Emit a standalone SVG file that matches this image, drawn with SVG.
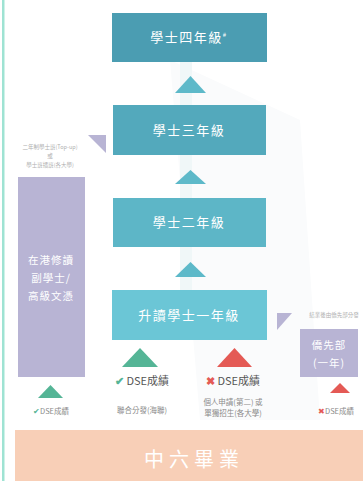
<svg xmlns="http://www.w3.org/2000/svg" width="363" height="481" viewBox="0 0 363 481">
<style>
text{font-family:"Noto Sans CJK TC","Noto Sans",sans-serif;}
.lbl{fill:#ffffff;font-size:13px;text-anchor:middle;letter-spacing:1.5px;}
.plbl{fill:#ffffff;font-size:10.5px;text-anchor:middle;letter-spacing:1px;}
.dse{fill:#555555;font-size:11px;text-anchor:middle;}
.sm{fill:#8a8a8a;font-size:7.5px;text-anchor:middle;}
.tiny{fill:#b0b0b0;font-size:5.5px;text-anchor:middle;}
.ok{fill:#55b596;}
.no{fill:#e45a55;}
.up{fill:#5db9c9;}
.pur{fill:#b8b4d4;}
</style>
<rect width="363" height="481" fill="#ffffff"/>
<polygon points="170,60 300,120 320,420 200,420" fill="#fafbfc"/>
<rect x="180" y="60" width="12" height="232" fill="#f0f7f8"/>
<rect x="2" y="0" width="2.5" height="481" fill="#9fe3d3"/>
<g id="year4"><rect x="112" y="13" width="155" height="49" fill="#4b9db2"/><text class="lbl" x="189" y="42">學士四年級<tspan font-size="6" dy="-5">#</tspan></text></g>
<g id="year3"><rect x="113" y="105" width="153" height="50" fill="#53a9bc"/><text class="lbl" x="189" y="135">學士三年級</text></g>
<g id="year2"><rect x="113" y="198" width="153" height="49" fill="#5db6c7"/><text class="lbl" x="189" y="227">學士二年級</text></g>
<g id="year1"><rect x="112" y="290" width="155" height="50" fill="#6bc6d6"/><text class="lbl" x="189" y="320">升讀學士一年級</text></g>
<g id="subdegree"><rect x="18" y="177" width="67" height="200" fill="#b8b4d4"/><text class="plbl" x="51" y="264">在港修讀</text><text class="plbl" x="51" y="282">副學士/</text><text class="plbl" x="51" y="300">高級文憑</text></g>
<g id="prep"><rect x="300" y="329" width="58" height="48" fill="#b8b4d4"/><text class="plbl" x="329" y="349">僑先部</text><text class="plbl" x="329" y="367">(一年)</text></g>
<g id="graduate"><rect x="15" y="430" width="348" height="51" fill="#f8cfb7"/><text x="194" y="467" fill="#ffffff" font-size="20" text-anchor="middle" letter-spacing="5" font-family="Noto Sans CJK TC,sans-serif">中六畢業</text></g>
<g id="connectors">
<polygon class="up" points="175,93 190.5,76 206,93"/>
<polygon class="up" points="175,184 190.5,170 206,184"/>
<polygon class="up" points="175,277 190.5,262 206,277"/>
<polygon class="ok" points="122,367 140,348 158,367"/>
<polygon class="no" points="217,367 234.5,348 252,367"/>
<polygon class="ok" points="38,398 50.5,385 63,398"/>
<polygon class="no" points="330,393 340,383 350,393"/>
<polygon class="pur" points="88,135 106,135 106,153"/>
<polygon class="pur" points="277,313 292,313 277,330"/>
</g>
<g id="labels">
<text class="dse" x="142" y="385"><tspan fill="#55b596" font-weight="bold">✔</tspan> DSE成績</text>
<text class="dse" x="233" y="385"><tspan fill="#e45a55" font-weight="bold">✖</tspan> DSE成績</text>
<text class="sm" x="142" y="413">聯合分發(海聯)</text>
<text class="sm" x="233" y="405">個人申請(第二) 或</text>
<text class="sm" x="233" y="416">單獨招生(各大學)</text>
<text class="sm" x="51" y="414" font-size="6.5"><tspan fill="#55b596">✔</tspan>DSE成績</text>
<text class="sm" x="336" y="414" font-size="6.5"><tspan fill="#e45a55">✖</tspan>DSE成績</text>
<text class="tiny" x="50" y="149">二年制學士班(Top-up)</text>
<text class="tiny" x="50" y="158">或</text>
<text class="tiny" x="50" y="167">學士班插班(各大學)</text>
<text class="tiny" x="334" y="317">結業後由僑先部分發</text>
</g>
</svg>
